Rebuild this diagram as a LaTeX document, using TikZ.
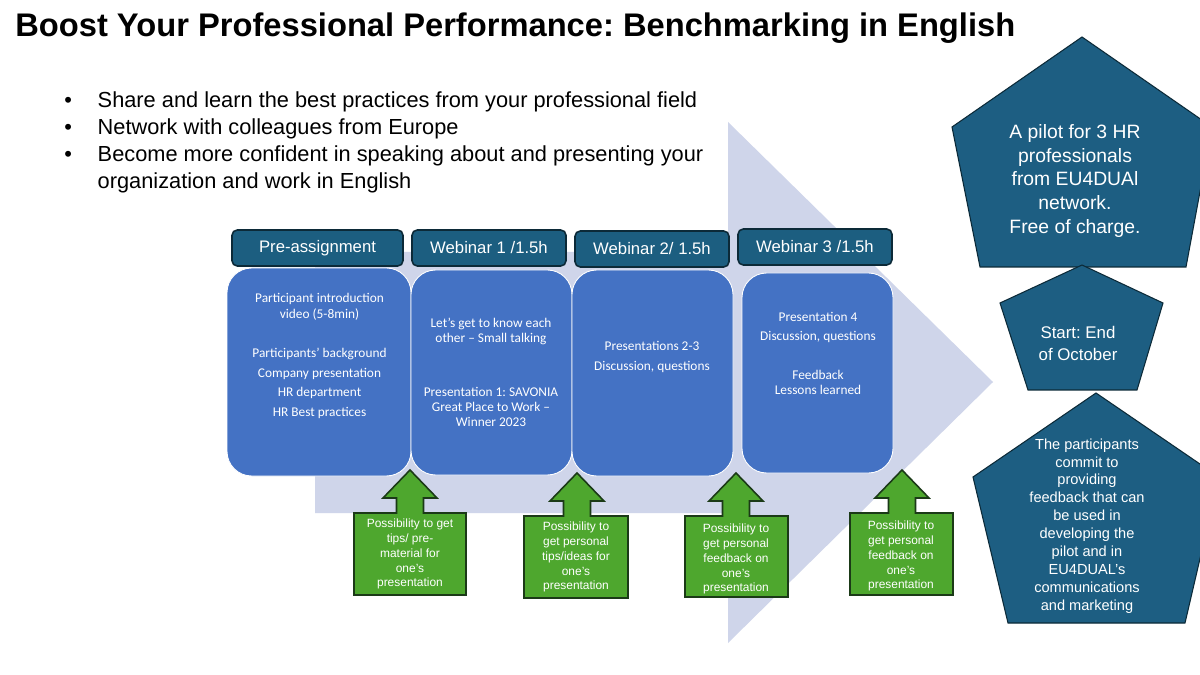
\documentclass[tikz,border=0pt]{standalone}
\usepackage{fontspec}
\setmainfont{Liberation Sans}
\newfontfamily\calibri{Carlito}
\usetikzlibrary{positioning}
\frenchspacing

\definecolor{arrowbg}{HTML}{CFD5EA}
\definecolor{boxblue}{HTML}{4472C4}
\definecolor{headfill}{HTML}{1C5E80}
\definecolor{headline}{HTML}{0C2A38}
\definecolor{pentfill}{HTML}{1D5E82}
\definecolor{greenfill}{HTML}{4EA72E}
\definecolor{greenline}{HTML}{1B3A17}

\tikzset{
	header/.style={draw=headline, fill=headfill, line width=0.9pt, rounded corners=3pt,
		text=white, font=\fontsize{9.5}{11}\selectfont, inner sep=0pt},
	session/.style={draw=white, fill=boxblue, line width=0.5pt, rounded corners=14pt, inner sep=0pt},
	sessiontext/.style={text=white, align=center, inner sep=0pt},
	callout/.style={draw=greenline, fill=greenfill, line width=0.9pt},
	callouttext/.style={text=white, align=center, inner sep=0pt,
		font=\fontsize{6.8}{8.5}\selectfont},
	pent/.style={draw=headline, fill=pentfill, line width=0.6pt},
	penttext/.style={text=white, align=center, inner sep=0pt}
}

\begin{document}
\begin{tikzpicture}[x=0.02cm, y=-0.02cm]
	
	% Parameters
	\def\px{0.02cm}
	
	\useasboundingbox[fill=white] (0,0) rectangle (1200,675);
	
	% -----------------------------
	% Title and goals
	% -----------------------------
	\node[anchor=base west, inner sep=0pt, font=\bfseries\fontsize{18.6}{22}\selectfont] (title) at (15,37)
	{Boost Your Professional Performance: Benchmarking in English};
	
	\node[anchor=base west, inner sep=0pt, font=\fontsize{12.4}{15.3}\selectfont] (goals) at (64,108)
	{\begin{tabular}[t]{@{}p{19pt}@{}l@{}}
			\textbullet & Share and learn the best practices from your professional field\\
			\textbullet & Network with colleagues from Europe\\
			\textbullet & Become more confident in speaking about and presenting your\\
			& organization and work in English
	\end{tabular}};
	
	% -----------------------------
	% Background arrow
	% -----------------------------
	\fill[arrowbg] (315,252) -- (728,252) -- (728,122) -- (993,382)
	-- (728,643) -- (728,513) -- (315,513) -- cycle;
	
	% -----------------------------
	% Headers
	% -----------------------------
	\node[header, minimum width={171*\px}, minimum height={36*\px}] (pre) at (317.5,248) {Pre-assignment};
	\node[header, minimum width={154*\px}, minimum height={36*\px}] (web1) at (489,248) {Webinar 1 /1.5h};
	\node[header, minimum width={154*\px}, minimum height={36*\px}] (web2) at (652,249) {Webinar 2/ 1.5h};
	\node[header, minimum width={154*\px}, minimum height={36*\px}] (web3) at (815,247) {Webinar 3 /1.5h};
	
	% -----------------------------
	% Session boxes
	% -----------------------------
	\node[session, minimum width={184*\px}, minimum height={208*\px}] (s0) at (319,372) {};
	\node[session, minimum width={161*\px}, minimum height={205*\px}] (s1) at (491.5,372.5) {};
	\node[session, minimum width={161*\px}, minimum height={206*\px}] (s2) at (652.5,373) {};
	\node[session, minimum width={151*\px}, minimum height={200*\px}] (s3) at (817.5,373) {};
	
	\begin{scope}[every node/.append style={font=\calibri\fontsize{7.6}{9.1}\selectfont}]
		\node[sessiontext] (s0text) at (319.5,356) {Participant introduction\\ video (5-8min)\\[13pt]
			Participants’ background\\[2pt] Company presentation\\[2pt] HR department\\[2pt] HR Best practices};
		\node[sessiontext, font=\calibri\fontsize{7.6}{8.5}\selectfont] (s1text) at (491,372.5)
		{Let’s get to know each\\ other – Small talking\\[22pt]
			Presentation 1: SAVONIA\\ Great Place to Work –\\ Winner 2023};
		\node[sessiontext] (s2text) at (652,357) {Presentations 2-3\\[2.2pt] Discussion, questions};
		\node[sessiontext] (s3text) at (818,353.5) {Presentation 4\\[1.7pt] Discussion, questions\\[13pt]
			Feedback\\[-0.6pt] Lessons learned};
	\end{scope}
	
	% -----------------------------
	% Green callouts
	% -----------------------------
	\foreach \cx/\ty/\bl/\br/\bb in {410/470/354/466/595, 577/473/524/628/598,
		736/473/685/788/597, 902/470/850/953/595} {
		\draw[callout] (\cx,\ty) -- ++(27,28) -- ++(-13.5,0) -- ++(0,15) -- (\br,\ty+43)
		-- (\br,\bb) -- (\bl,\bb) -- (\bl,\ty+43) -- (\cx-13.5,\ty+43) -- ++(0,-15)
		-- ++(-13.5,0) -- cycle;
	}
	
	\node[callouttext] (c0) at (410,554) {Possibility to get\\ tips/ pre-\\ material for\\ one’s\\ presentation};
	\node[callouttext] (c1) at (576,557) {Possibility to\\ get personal\\ tips/ideas for\\ one’s\\ presentation};
	\node[callouttext] (c2) at (736,559) {Possibility to\\ get personal\\ feedback on\\ one’s\\ presentation};
	\node[callouttext] (c3) at (901,556) {Possibility to\\ get personal\\ feedback on\\ one’s\\ presentation};
	
	% -----------------------------
	% Pentagons
	% -----------------------------
	\draw[pent] (1082,37) -- (1212,127) -- (1186,267) -- (980,267) -- (952,127) -- cycle;
	\draw[pent] (1082,265) -- (1163,303) -- (1137,390) -- (1028,390) -- (1000,303) -- cycle;
	\draw[pent] (1096,393) -- (1219,477) -- (1185,623) -- (1008,623) -- (973,477) -- cycle;
	
	\node[penttext, font=\fontsize{11}{13.6}\selectfont] (pilot) at (1075,181)
	{A pilot for 3 HR\\ professionals\\ from EU4DUAl\\ network.\\ Free of charge.};
	\node[penttext, font=\fontsize{9.6}{12.5}\selectfont] (start) at (1078,343) {Start: End\\ of October};
	\node[penttext, font=\fontsize{8.3}{10.2}\selectfont] (commit) at (1087,526)
	{The participants\\ commit to\\ providing\\ feedback that can\\ be used in\\ developing the\\
		pilot and in\\ EU4DUAL’s\\ communications\\ and marketing};
	
\end{tikzpicture}
\end{document}
